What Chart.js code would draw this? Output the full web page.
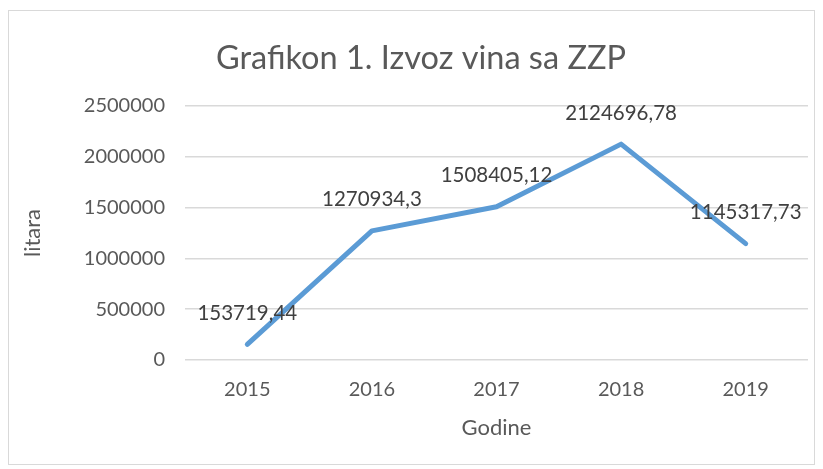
<!DOCTYPE html>
<html>
<head>
<meta charset="utf-8">
<script src="https://cdn.jsdelivr.net/npm/chart.js@4.4.0/dist/chart.umd.min.js"></script>
<style>
  html, body { margin: 0; padding: 0; background: #fff; }
  #frame { position: absolute; left: 8px; top: 10px; width: 807px; height: 455px; border: 1px solid #d9d9d9; box-sizing: border-box; }
  #wrap { position: absolute; left: 0; top: 0; width: 823px; height: 469px; }
</style>
</head>
<body>
<div id="frame"></div>
<div id="wrap"><canvas id="c" width="823" height="469"></canvas></div>
<script>
const years = ['2015', '2016', '2017', '2018', '2019'];
const litara = [153719.44, 1270934.3, 1508405.12, 2124696.78, 1145317.73];
const labelText = ['153719,44', '1270934,3', '1508405,12', '2124696,78', '1145317,73'];

const FONT = 'Lato, "Open Sans", sans-serif';
const GREY = '#595959';

// labels above each point, like Excel data labels
const pointLabels = {
  id: 'pointLabels',
  afterDatasetsDraw(chart) {
    const ctx = chart.ctx;
    const meta = chart.getDatasetMeta(0);
    ctx.save();
    ctx.font = '20.5px ' + FONT;
    ctx.fillStyle = '#404040';
    ctx.textAlign = 'center';
    ctx.textBaseline = 'middle';
    meta.data.forEach((p, i) => {
      ctx.fillText(labelText[i], p.x, p.y - 31);
    });
    ctx.restore();
  }
};

new Chart(document.getElementById('c'), {
  type: 'line',
  data: {
    labels: years,
    datasets: [{
      data: litara,
      borderColor: '#5b9bd5',
      borderWidth: 5,
      pointRadius: 0,
      tension: 0,
      borderCapStyle: 'round',
      borderJoinStyle: 'round'
    }]
  },
  options: {
    responsive: false,
    animation: false,
    layout: { padding: { left: 34, right: 15, top: 0, bottom: 28 } },
    plugins: {
      legend: { display: false },
      tooltip: { enabled: false },
      title: {
        display: true,
        text: 'Grafikon 1. Izvoz vina sa ZZP',
        color: GREY,
        font: { family: FONT, size: 32.5, weight: 'normal' },
        padding: { top: 39, bottom: 28 }
      }
    },
    scales: {
      x: {
        offset: true,
        grid: { display: false },
        border: { display: false },
        ticks: { color: GREY, font: { family: FONT, size: 20 }, padding: 10 },
        title: { display: true, text: 'Godine', color: GREY, font: { family: FONT, size: 22 }, padding: { top: 0, bottom: 0 } },
        afterFit(scale) { scale.height = 81; }
      },
      y: {
        min: 0, max: 2500000,
        ticks: { stepSize: 500000, color: GREY, font: { family: FONT, size: 20 }, padding: 20,
          callback: v => String(v) },
        grid: { color: '#d9d9d9', lineWidth: 1.5, drawTicks: false },
        border: { display: false },
        title: { display: true, text: 'litara', color: GREY, font: { family: FONT, size: 22 }, padding: { top: -14, bottom: 0 } },
        afterFit(scale) { scale.width = 151; }
      }
    }
  },
  plugins: [pointLabels]
});
</script>
</body>
</html>
